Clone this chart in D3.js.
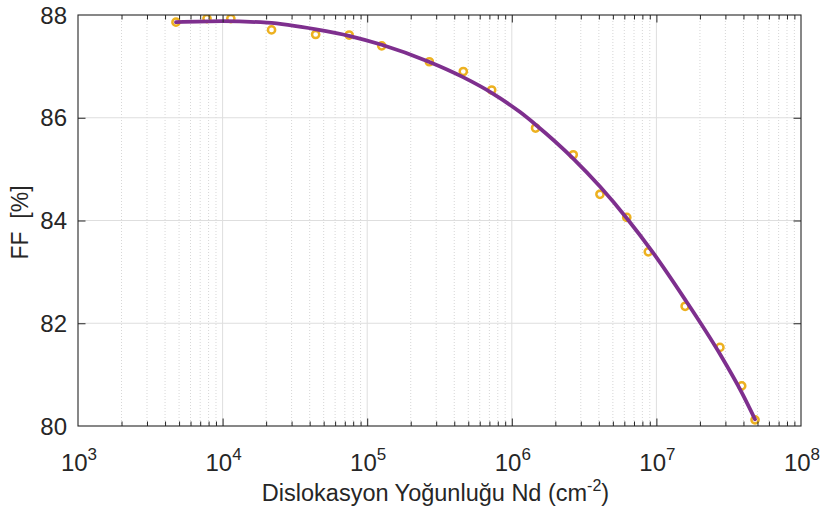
<!DOCTYPE html>
<html>
<head>
<meta charset="utf-8">
<script src="https://cdn.jsdelivr.net/npm/d3@7"></script>
<style>
  html, body { margin: 0; padding: 0; background: #fff; }
  svg { display: block; font-family: "Liberation Sans", Arial, Helvetica, sans-serif; }
</style>
</head>
<body>
<svg id="chart" width="825" height="518"></svg>
<script>
// Measured fill factor vs. dislocation density (markers)
const densityPoints = [4.76e3, 7.8e3, 1.14e4, 2.18e4, 4.4e4, 7.5e4, 1.26e5, 2.69e5, 4.62e5, 7.26e5,
                       1.46e6, 2.66e6, 4.07e6, 6.24e6, 8.79e6, 1.58e7, 2.75e7, 3.89e7, 4.81e7];
const ffPoints = [87.86, 87.93, 87.93, 87.71, 87.62, 87.61, 87.40, 87.09, 86.90, 86.54,
                  85.80, 85.28, 84.51, 84.06, 83.39, 82.33, 81.53, 80.78, 80.12];

// Fitted curve through the measurements
const fitDensity = [4.76e3, 1.0e4, 2.03e4, 4.43e4, 7.6e4, 1.26e5, 2.67e5, 4.6e5, 7.3e5, 1.14e6,
                    1.47e6, 2.65e6, 4.07e6, 6.26e6, 9.5e6, 1.58e7, 2.75e7, 3.91e7, 4.81e7];
const fitFF = [87.86, 87.88, 87.85, 87.72, 87.59, 87.42, 87.09, 86.79, 86.48, 86.11,
               85.86, 85.21, 84.66, 84.04, 83.37, 82.46, 81.40, 80.64, 80.13];

// Axis ticks
const xDecades = [1e3, 1e4, 1e5, 1e6, 1e7, 1e8];
const xExponents = ["3", "4", "5", "6", "7", "8"];
const yTicks = [80, 82, 84, 86, 88];

const xLabelText = "Dislokasyon Yoğunluğu Nd (cm";
const xLabelSup = "-2";
const yLabelText = "FF  [%]";

const W = 825, H = 518;
const margin = { left: 78, right: 24, top: 15, bottom: 92 };
const x0 = margin.left, x1 = W - margin.right;
const y0 = margin.top, y1 = H - margin.bottom;

const svg = d3.select("#chart");
svg.append("rect").attr("width", W).attr("height", H).attr("fill", "#fff");

const x = d3.scaleLog().domain([1e3, 1e8]).range([x0, x1]);
const y = d3.scaleLinear().domain([80, 88]).range([y1, y0]);

// minor x positions: 2..9 within each decade
const xMinor = [];
for (let k = 0; k < xDecades.length - 1; k++) {
  for (let m = 2; m <= 9; m++) xMinor.push(m * xDecades[k]);
}

const axisColor = "#262626";

// minor grid (dotted)
svg.append("g").selectAll("line").data(xMinor).join("line")
  .attr("x1", d => x(d)).attr("x2", d => x(d))
  .attr("y1", y0).attr("y2", y1)
  .attr("stroke", "#cccccc").attr("stroke-width", 0.8)
  .attr("stroke-dasharray", "1,2");

// major grid
svg.append("g").selectAll("line").data(xDecades.slice(1, -1)).join("line")
  .attr("x1", d => x(d)).attr("x2", d => x(d))
  .attr("y1", y0).attr("y2", y1)
  .attr("stroke", "#dedede").attr("stroke-width", 1);
svg.append("g").selectAll("line").data(yTicks.slice(1, -1)).join("line")
  .attr("x1", x0).attr("x2", x1)
  .attr("y1", d => y(d)).attr("y2", d => y(d))
  .attr("stroke", "#dedede").attr("stroke-width", 1);

// clip region for the data
svg.append("clipPath").attr("id", "plotClip")
  .append("rect").attr("x", x0).attr("y", y0).attr("width", x1 - x0).attr("height", y1 - y0);

const plot = svg.append("g").attr("clip-path", "url(#plotClip)");

// markers
plot.append("g").selectAll("circle").data(densityPoints).join("circle")
  .attr("cx", d => x(d))
  .attr("cy", (d, i) => y(ffPoints[i]))
  .attr("r", 3.6)
  .attr("fill", "none")
  .attr("stroke", "#EDB120")
  .attr("stroke-width", 2.5);

// fitted line
const line = d3.line()
  .x(d => x(d[0]))
  .y(d => y(d[1]))
  .curve(d3.curveMonotoneX);
plot.append("path")
  .datum(fitDensity.map((d, i) => [d, fitFF[i]]))
  .attr("d", line)
  .attr("fill", "none")
  .attr("stroke", "#7E2F8E")
  .attr("stroke-width", 3.8)
  .attr("stroke-linejoin", "round")
  .attr("stroke-linecap", "round");

// axes via d3 axis generators, ticks pointing inward
const majorLen = 7.5, minorLen = 4.5;
function styleAxis(g) {
  g.select(".domain").remove();
  g.selectAll(".tick line").attr("stroke", axisColor).attr("stroke-width", 1);
}

const xMajorTicks = xDecades.slice(1, -1);
svg.append("g").attr("transform", `translate(0,${y1})`)
  .call(d3.axisBottom(x).tickValues(xMajorTicks).tickSize(-majorLen).tickFormat(""))
  .call(styleAxis);
svg.append("g").attr("transform", `translate(0,${y1})`)
  .call(d3.axisBottom(x).tickValues(xMinor).tickSize(-minorLen).tickFormat(""))
  .call(styleAxis);
svg.append("g").attr("transform", `translate(0,${y0})`)
  .call(d3.axisTop(x).tickValues(xMajorTicks).tickSize(-majorLen).tickFormat(""))
  .call(styleAxis);
svg.append("g").attr("transform", `translate(0,${y0})`)
  .call(d3.axisTop(x).tickValues(xMinor).tickSize(-minorLen).tickFormat(""))
  .call(styleAxis);
svg.append("g").attr("transform", `translate(${x0},0)`)
  .call(d3.axisLeft(y).tickValues(yTicks.slice(1, -1)).tickSize(-majorLen).tickFormat(""))
  .call(styleAxis);
svg.append("g").attr("transform", `translate(${x1},0)`)
  .call(d3.axisRight(y).tickValues(yTicks.slice(1, -1)).tickSize(-majorLen).tickFormat(""))
  .call(styleAxis);

// box
svg.append("rect")
  .attr("x", x0).attr("y", y0).attr("width", x1 - x0).attr("height", y1 - y0)
  .attr("fill", "none").attr("stroke", axisColor).attr("stroke-width", 1.1);

// x tick labels 10^n
const xl = svg.append("g").attr("fill", axisColor).attr("font-size", 24);
xDecades.forEach((d, i) => {
  const t = xl.append("text")
    .attr("x", x(d) + 1).attr("y", y1 + 45)
    .attr("text-anchor", "middle");
  t.append("tspan").text("10");
  t.append("tspan").attr("dy", -11).attr("font-size", 17).text(xExponents[i]);
});

// y tick labels
svg.append("g").attr("fill", axisColor).attr("font-size", 24)
  .selectAll("text").data(yTicks).join("text")
  .attr("x", x0 - 11)
  .attr("y", d => y(d))
  .attr("dy", "0.36em")
  .attr("text-anchor", "end")
  .text(d => d);

// axis titles
const xt = svg.append("text")
  .attr("x", (x0 + x1) / 2 - 4).attr("y", 501)
  .attr("text-anchor", "middle")
  .attr("font-size", 23.5)
  .attr("fill", axisColor);
xt.append("tspan").text(xLabelText);
xt.append("tspan").attr("dy", -10).attr("font-size", 16).text(xLabelSup);
xt.append("tspan").attr("dy", 10).text(")");

svg.append("text")
  .attr("transform", `translate(28,${(y0 + y1) / 2 + 2}) rotate(-90)`)
  .attr("text-anchor", "middle")
  .attr("font-size", 23)
  .attr("fill", axisColor)
  .attr("xml:space", "preserve")
  .style("white-space", "pre")
  .text(yLabelText);
</script>
</body>
</html>
